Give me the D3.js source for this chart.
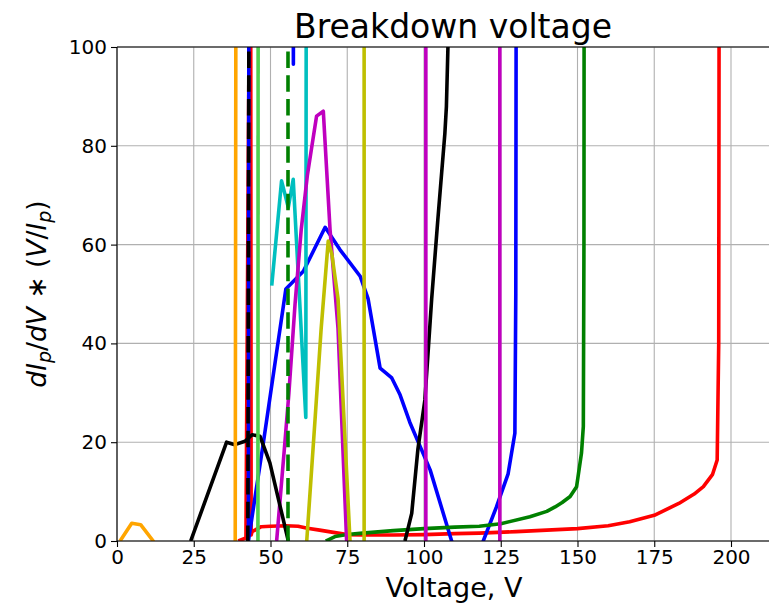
<!DOCTYPE html>
<html><head><meta charset="utf-8">
<script src="https://cdn.jsdelivr.net/npm/d3@7"></script>
<style>
body{margin:0;background:#fff}
svg{display:block;font-family:"DejaVu Sans",sans-serif}
</style>
</head><body>
<svg id="c" width="769" height="605"></svg>
<script>
// ---- data (voltage V, dIp/dV*(V/Ip)) ----
const xTicks = [0, 25, 50, 75, 100, 125, 150, 175, 200];
const yTicks = [0, 20, 40, 60, 80, 100];

const redV = [39.5, 42, 43.5, 43.7, 44, 47, 50, 55, 59, 62, 66, 70, 75, 80, 90, 100, 110, 118, 130, 140, 150, 160, 167, 175, 183, 188, 191, 194, 195.5, 196, 196.2];
const redI = [0, 0.6, 150, 1.2, 1.9, 2.9, 3, 3.1, 3, 2.6, 2.2, 1.8, 1.3, 1.2, 1.2, 1.3, 1.5, 1.6, 1.9, 2.2, 2.5, 3.1, 3.9, 5.2, 7.6, 9.5, 11, 13.5, 16.4, 40, 150];

const blueV = [43.0, 42.8, 47.7, 55, 60.7, 67.8, 72.6, 79.2, 81.8, 85.7, 89.5, 92.2, 95.4, 102, 109, 111, 117, 119.3, 123.6, 127.4, 129.6, 129.9, 130.1];
const blueI = [150, 0, 20, 51, 54.6, 63.5, 59, 53.6, 49, 35, 33, 29.6, 24, 14.4, 0, -5, -5, 0, 6.9, 13.6, 21.8, 50, 150];

const blueTopV = [57.3, 57.45, 57.6];
const blueTopI = [150, 96.5, 150];

const greenV = [68, 71, 75, 80, 90, 100, 110, 118, 125, 134.5, 140, 142.7, 145, 147.6, 149.7, 151.3, 151.9, 152.1, 152.2];
const greenI = [0, 0.9, 1.3, 1.6, 2.1, 2.5, 2.8, 3, 3.5, 4.9, 6, 6.9, 7.8, 9, 11, 17.8, 23.2, 60, 150];

const cyanV = [50.4, 53.6, 55.8, 57.4, 61.5, 61.7];
const cyanI = [51.7, 72.9, 67.5, 73.2, 25, 150];

const magentaV = [52, 54.7, 56, 58, 60, 62, 63.5, 65, 67.2, 69.4, 72, 74.8];
const magentaI = [0, 20, 30, 48, 63, 74, 80, 86, 87, 63, 43, 0];

const yellowV = [61.8, 64.5, 66.5, 68.8, 70, 72, 75.9];
const yellowI = [0, 24.5, 43, 60.7, 58, 49, 0];

const blackV = [24, 35.7, 38.4, 41.7, 44, 46.6, 49.8, 55.8];
const blackI = [0, 20, 19.5, 20.2, 21.5, 21.2, 15.8, 0];

const black2V = [93.8, 96, 98, 100.3, 102.5, 104.5, 106.8, 107.3, 107.8, 108.3];
const black2I = [0, 5.6, 18.5, 28.6, 49, 65, 82.5, 88, 100, 150];

const orangeV = [1, 4.8, 7.7, 11.8, 13, 38.5, 38.8];
const orangeI = [0, 3.6, 3.3, 0, -5, -5, 150];

const limeV = [45.9, 46.0];
const limeI = [-5, 150];

const magenta2V = [100.6, 100.6];
const magenta2I = [-5, 150];
const magenta3V = [124.7, 124.7];
const magenta3I = [-5, 150];

const yellow2V = [80.5, 80.5];
const yellow2I = [-5, 150];

const greenDashV = [55.7, 55.7];
const greenDashI = [-5, 150];

const blackDashV = [42.6, 43.1];
const blackDashI = [-5, 150];

// ---- drawing ----
const series = [
  {v: redV, i: redI, color: "#ff0000"},
  {v: blueV, i: blueI, color: "#0000ff"},
  {v: greenV, i: greenI, color: "#008000"},
  {v: cyanV, i: cyanI, color: "#00bfbf"},
  {v: magentaV, i: magentaI, color: "#bf00bf"},
  {v: yellowV, i: yellowI, color: "#bfbf00"},
  {v: blackV, i: blackI, color: "#000000"},
  {v: black2V, i: black2I, color: "#000000"},
  {v: orangeV, i: orangeI, color: "#ffa500"},
  {v: limeV, i: limeI, color: "#4fcf4f"},
  {v: magenta2V, i: magenta2I, color: "#bf00bf"},
  {v: magenta3V, i: magenta3I, color: "#bf00bf"},
  {v: yellow2V, i: yellow2I, color: "#bfbf00"},
  {v: blueTopV, i: blueTopI, color: "#0000ff"},
  {v: greenDashV, i: greenDashI, color: "#008000", dash: "16.5,7.2"},
  {v: blackDashV, i: blackDashI, color: "#000000", dash: "16.5,7.2"}
];

(function draw() {
const svg = d3.select("#c");
const padL = 117, padT = 47, padB = 541;
const pxPerV = 3.07;
const xMax = 219;
const x = d3.scaleLinear().domain([0, xMax]).range([padL, padL + xMax * pxPerV]);
const y = d3.scaleLinear().domain([0, 100]).range([padB, padT]);
const plotR = x(xMax);

const g = svg.append("g");
g.selectAll("line.gx").data(xTicks).join("line")
  .attr("x1", d => x(d)).attr("x2", d => x(d)).attr("y1", padT).attr("y2", padB)
  .attr("stroke", "#b0b0b0").attr("stroke-width", 1.1);
g.selectAll("line.gy").data(yTicks).join("line")
  .attr("x1", padL).attr("x2", plotR).attr("y1", d => y(d)).attr("y2", d => y(d))
  .attr("stroke", "#b0b0b0").attr("stroke-width", 1.1);

svg.append("clipPath").attr("id", "clip").append("rect")
  .attr("x", padL).attr("y", padT).attr("width", plotR - padL).attr("height", padB - padT);

const line = d3.line().x(d => x(d[0])).y(d => y(d[1]));
const plot = svg.append("g").attr("clip-path", "url(#clip)");
series.forEach(s => {
  const pts = s.v.map((v, k) => [v, s.i[k]]);
  plot.append("path").attr("d", line(pts))
    .attr("fill", "none").attr("stroke", s.color).attr("stroke-width", 3.6)
    .attr("stroke-linejoin", "round")
    .attr("stroke-dasharray", s.dash || null);
});

const xAxis = d3.axisBottom(x).tickValues(xTicks).tickSize(6).tickPadding(3).tickFormat(d3.format("d"));
const yAxis = d3.axisLeft(y).tickValues(yTicks).tickSize(6).tickPadding(4).tickFormat(d3.format("d"));
const ax = svg.append("g").attr("transform", `translate(0,${padB})`).call(xAxis);
const ay = svg.append("g").attr("transform", `translate(${padL},0)`).call(yAxis);
[ax, ay].forEach(a => {
  a.select(".domain").attr("stroke", "#000").attr("stroke-width", 1.1);
  a.selectAll(".tick line").attr("stroke", "#000").attr("stroke-width", 1.1);
  a.selectAll(".tick text").attr("font-size", 20).attr("font-family", "DejaVu Sans").attr("fill", "#000");
});
ax.select(".domain").attr("d", `M${padL},0H${plotR}`);
ay.select(".domain").attr("d", `M0,${padB}V${padT}`);
svg.append("line").attr("x1", padL).attr("x2", plotR).attr("y1", padT).attr("y2", padT)
  .attr("stroke", "#000").attr("stroke-width", 1.1);

svg.append("text").attr("x", 453).attr("y", 38).attr("text-anchor", "middle")
  .attr("font-size", 33).attr("fill", "#000").text("Breakdown voltage");

svg.append("text").attr("x", 454).attr("y", 597).attr("text-anchor", "middle")
  .attr("font-size", 27).attr("fill", "#000").text("Voltage, V");

const yl = svg.append("text").attr("transform", "translate(46,294) rotate(-90)")
  .attr("text-anchor", "middle").attr("font-size", 26.5).attr("fill", "#000");
yl.append("tspan").attr("font-style", "italic").text("dI");
yl.append("tspan").attr("font-style", "italic").attr("font-size", 19).attr("dy", 5).text("p");
yl.append("tspan").attr("dy", -5).text("/");
yl.append("tspan").attr("font-style", "italic").text("dV");
yl.append("tspan").text(" ∗ (");
yl.append("tspan").attr("font-style", "italic").text("V");
yl.append("tspan").text("/");
yl.append("tspan").attr("font-style", "italic").text("I");
yl.append("tspan").attr("font-style", "italic").attr("font-size", 19).attr("dy", 5).text("p");
yl.append("tspan").attr("dy", -5).text(")");
})();
</script>
</body></html>
